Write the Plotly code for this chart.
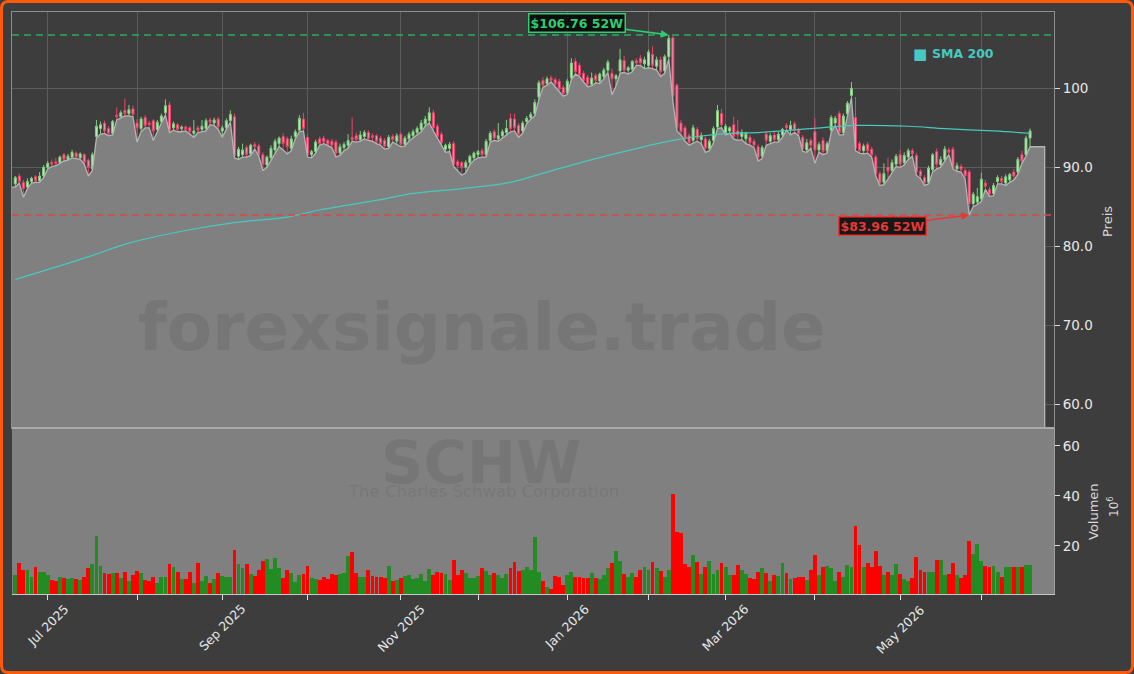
import numpy as np
import pandas as pd
import plotly.graph_objects as go
from plotly.subplots import make_subplots

# ---------------- data ----------------
ticker = "SCHW"
company = "The Charles Schwab Corporation"
watermark = "forexsignale.trade"

market_holidays = ["2025-06-19", "2025-07-04", "2025-09-01", "2025-11-27", "2025-12-25",
                   "2026-01-01", "2026-01-19", "2026-02-16", "2026-04-03", "2026-05-25"]
dates = pd.bdate_range("2025-06-18", "2026-06-17", freq="C", holidays=market_holidays)

open_ = [87.9, 88.9, 88.1, 87.5, 88.2, 88.8, 88.3, 88.9, 90.0, 90.6, 90.7, 90.6, 91.6, 91.0, 91.3, 91.8, 91.2, 91.6, 90.9, 89.8,
         93.9, 94.9, 95.6, 94.9, 94.3, 96.6, 96.4, 97.2, 96.8, 97.4, 95.6, 94.9, 96.3, 95.6, 95.9, 94.8, 95.8, 96.9, 97.9, 95.0,
         95.4, 94.9, 95.1, 95.0, 94.3, 95.0, 94.8, 94.9, 96.0, 95.6, 96.1, 94.6, 95.0, 95.9, 96.4, 91.4, 91.6, 92.5, 91.7, 92.9,
         92.7, 91.6, 90.3, 91.2, 92.2, 93.0, 93.9, 93.6, 92.4, 93.9, 94.7, 96.1, 93.8, 91.6, 92.0, 93.6, 93.7, 93.4, 93.3, 93.2,
         91.8, 92.5, 92.8, 93.8, 94.0, 93.5, 93.9, 94.4, 94.0, 94.0, 93.7, 93.4, 92.6, 93.9, 93.3, 94.2, 92.9, 93.6, 94.0, 94.4,
         94.8, 95.5, 95.9, 96.9, 95.2, 94.2, 92.3, 92.4, 93.0, 90.7, 90.6, 90.0, 90.6, 91.2, 91.6, 92.1, 91.6, 93.4, 94.5, 93.6,
         94.0, 94.4, 96.2, 96.1, 95.3, 94.6, 95.8, 96.3, 96.8, 98.9, 101.0, 100.6, 101.3, 101.1, 100.9, 100.1, 99.4, 101.3, 103.4, 102.9,
         101.9, 101.4, 100.5, 101.6, 100.9, 101.5, 102.3, 101.9, 101.2, 102.2, 103.5, 102.3, 102.4, 103.5, 103.8, 103.1, 102.9, 104.3, 102.8, 103.6,
         102.2, 104.0, 106.4, 100.4, 95.6, 95.0, 94.0, 93.4, 94.8, 93.5, 93.6, 92.4, 93.4, 95.1, 96.8, 94.4, 94.6, 95.4, 94.6, 93.9,
         93.6, 93.8, 93.3, 92.6, 91.4, 94.2, 93.3, 94.1, 93.5, 94.1, 95.3, 94.8, 95.5, 94.7, 93.8, 92.2, 93.4, 94.5, 92.2, 93.4,
         92.1, 94.7, 95.6, 96.8, 94.4, 96.8, 99.1, 96.3, 93.0, 92.1, 92.9, 92.3, 91.3, 89.2, 88.1, 90.0, 89.6, 90.4, 91.6, 90.6,
         91.3, 92.1, 91.5, 89.5, 88.7, 88.1, 89.7, 92.0, 90.3, 91.0, 92.2, 92.3, 89.8, 90.1, 89.6, 89.4, 85.4, 85.6, 86.0, 88.0,
         87.2, 86.7, 88.2, 88.6, 88.0, 88.4, 89.4, 89.4, 91.6, 91.6, 93.7]
high = [88.9, 89.2, 88.4, 88.6, 88.8, 89.0, 89.4, 90.3, 90.8, 91.0, 91.2, 91.5, 91.8, 91.7, 92.2, 92.0, 91.9, 91.8, 91.1, 91.9,
        96.0, 95.8, 95.9, 95.2, 96.0, 97.6, 97.2, 98.7, 97.9, 97.8, 96.1, 96.4, 96.6, 95.9, 96.1, 96.0, 96.8, 98.6, 98.3, 95.8,
        95.6, 95.3, 95.3, 95.2, 96.0, 95.3, 96.0, 96.2, 96.3, 96.3, 96.4, 95.3, 96.2, 97.2, 96.8, 92.6, 93.0, 92.8, 93.0, 93.2,
        93.0, 91.9, 91.5, 92.8, 93.6, 93.9, 94.3, 93.9, 94.0, 94.8, 96.6, 96.9, 94.2, 92.2, 93.5, 93.9, 94.0, 93.6, 93.6, 93.5,
        93.0, 93.2, 94.2, 96.3, 94.4, 94.6, 94.7, 94.7, 94.3, 94.2, 94.0, 93.7, 94.1, 94.2, 94.3, 94.4, 94.0, 94.5, 94.8, 95.2,
        96.0, 96.5, 97.6, 97.3, 95.5, 94.5, 93.0, 93.2, 93.3, 91.0, 90.8, 90.9, 91.6, 92.0, 92.2, 92.4, 93.6, 94.6, 94.8, 95.6,
        94.8, 96.0, 96.8, 96.8, 95.6, 95.9, 96.5, 97.0, 98.6, 101.0, 101.4, 101.5, 101.6, 101.4, 101.2, 100.4, 101.2, 103.8, 103.8, 103.2,
        102.2, 101.7, 102.0, 101.9, 102.0, 102.6, 103.6, 102.5, 101.8, 105.0, 104.1, 102.8, 103.6, 103.8, 104.2, 104.0, 104.9, 105.3, 104.0, 104.0,
        104.3, 106.76, 106.6, 100.6, 96.0, 95.3, 94.3, 95.4, 95.1, 94.4, 93.9, 93.6, 95.2, 97.9, 97.4, 95.5, 95.2, 96.4, 96.0, 94.8,
        94.5, 94.1, 93.6, 92.9, 92.8, 94.6, 94.3, 94.5, 94.5, 95.0, 95.6, 95.9, 95.8, 95.0, 94.1, 93.6, 93.7, 96.2, 93.2, 93.8,
        93.3, 96.6, 96.5, 97.1, 96.8, 98.4, 100.8, 98.9, 93.3, 93.0, 93.2, 92.6, 91.6, 89.5, 90.5, 91.2, 91.0, 91.7, 92.2, 91.9,
        92.4, 92.4, 91.8, 89.8, 89.0, 90.2, 91.8, 92.4, 91.4, 92.7, 92.5, 92.6, 90.6, 90.4, 89.9, 89.7, 86.9, 87.4, 89.3, 88.4,
        87.5, 88.0, 89.0, 88.9, 89.1, 89.3, 89.8, 91.3, 92.1, 94.0, 94.9]
low = [87.5, 88.0, 86.2, 87.3, 88.0, 88.1, 88.1, 88.7, 89.8, 90.1, 90.2, 90.5, 90.8, 90.9, 91.2, 91.1, 91.0, 90.4, 88.9, 89.6,
       93.7, 94.2, 94.3, 94.0, 94.1, 96.0, 96.3, 96.5, 96.5, 96.4, 93.2, 94.5, 95.0, 95.0, 93.4, 94.6, 95.6, 96.6, 94.4, 94.7,
       94.5, 94.5, 94.6, 94.2, 93.8, 94.4, 94.5, 94.6, 95.4, 95.3, 94.8, 93.8, 94.8, 95.7, 91.2, 91.0, 91.3, 91.3, 91.5, 92.3,
       91.4, 89.6, 90.0, 90.9, 91.8, 92.6, 92.2, 91.7, 92.1, 93.6, 94.5, 94.6, 91.3, 91.2, 91.8, 92.8, 93.0, 92.7, 92.5, 91.3,
       91.5, 92.1, 92.4, 93.3, 93.2, 93.3, 93.6, 93.4, 93.3, 93.0, 92.8, 92.3, 92.4, 93.2, 92.9, 92.6, 92.7, 93.3, 93.7, 94.1,
       94.5, 95.2, 95.6, 94.6, 93.6, 92.8, 91.9, 92.0, 90.1, 89.6, 89.0, 89.3, 90.3, 90.9, 91.2, 91.3, 91.3, 93.2, 93.4, 93.3,
       93.7, 94.2, 94.5, 94.6, 93.8, 94.3, 95.5, 96.1, 96.5, 98.6, 100.1, 100.4, 100.8, 100.2, 99.6, 99.0, 99.2, 101.1, 101.8, 101.5,
       100.8, 100.2, 100.3, 100.7, 100.6, 101.2, 102.0, 99.2, 100.3, 101.9, 102.0, 101.8, 102.1, 102.9, 102.9, 102.5, 102.6, 102.5, 102.3, 101.5,
       101.9, 103.7, 98.4, 94.6, 94.1, 93.3, 92.8, 93.1, 93.3, 93.0, 91.9, 92.1, 93.1, 94.9, 95.0, 94.1, 94.3, 93.6, 93.4, 93.5,
       93.0, 92.8, 92.5, 90.8, 91.1, 92.8, 93.0, 93.2, 93.2, 93.8, 94.7, 94.1, 94.4, 94.0, 92.0, 91.9, 92.4, 90.5, 91.9, 91.6,
       91.8, 94.4, 95.3, 94.1, 94.1, 96.5, 98.8, 92.1, 91.8, 91.7, 91.8, 91.3, 88.9, 87.7, 87.8, 88.5, 89.3, 90.1, 90.0, 90.3,
       91.0, 91.4, 89.0, 88.6, 87.7, 87.9, 89.4, 89.8, 90.0, 90.8, 91.6, 89.8, 89.5, 89.4, 88.5, 83.96, 85.0, 85.3, 85.7, 87.2,
       86.3, 86.4, 87.9, 87.9, 87.7, 88.1, 88.4, 89.1, 90.5, 91.4, 92.6]
close = [88.7, 88.2, 87.3, 88.2, 88.6, 88.3, 88.9, 90.0, 90.5, 90.4, 90.5, 91.3, 91.0, 91.4, 91.9, 91.3, 91.7, 90.6, 90.0, 91.6,
         95.2, 95.4, 94.6, 94.3, 95.8, 96.4, 96.9, 96.8, 97.3, 96.7, 95.0, 96.1, 95.3, 95.4, 94.6, 95.7, 96.5, 97.8, 94.7, 95.5,
         94.8, 95.1, 94.8, 94.5, 94.6, 94.7, 95.2, 95.9, 95.7, 96.0, 95.1, 95.0, 95.9, 96.7, 91.5, 92.3, 92.2, 91.6, 92.8, 92.6,
         91.6, 90.4, 91.3, 92.4, 93.3, 93.7, 93.0, 92.6, 93.6, 94.5, 96.2, 94.9, 91.6, 92.0, 93.2, 93.0, 93.2, 92.9, 92.8, 91.8,
         92.6, 92.9, 93.4, 93.5, 93.5, 94.1, 94.4, 93.6, 93.8, 93.3, 93.0, 92.7, 93.8, 93.5, 94.0, 92.9, 93.7, 94.2, 94.5, 94.9,
         95.6, 96.1, 96.9, 95.0, 93.9, 93.1, 92.8, 92.9, 90.4, 90.2, 90.0, 90.6, 91.4, 91.8, 92.0, 91.6, 93.3, 94.3, 93.7, 94.0,
         94.5, 94.9, 94.9, 95.0, 94.2, 95.6, 96.2, 96.7, 98.2, 100.7, 100.4, 101.2, 101.0, 100.5, 99.9, 99.3, 100.9, 103.2, 102.1, 101.7,
         101.0, 100.5, 101.3, 101.0, 101.8, 102.3, 103.3, 101.2, 101.6, 103.6, 102.3, 102.6, 103.4, 103.2, 103.2, 103.6, 104.6, 102.9, 103.6, 102.1,
         104.0, 106.3, 99.0, 95.0, 94.5, 93.6, 93.1, 95.0, 93.6, 94.0, 92.4, 93.3, 94.9, 97.2, 95.4, 95.2, 95.0, 93.9, 94.1, 94.4,
         94.3, 93.1, 92.8, 91.2, 92.5, 93.4, 94.0, 93.5, 94.2, 94.8, 95.0, 95.3, 94.7, 94.3, 92.4, 93.1, 92.8, 92.2, 92.9, 92.0,
         93.0, 96.3, 96.2, 94.4, 96.5, 98.1, 100.0, 92.4, 92.1, 92.7, 92.1, 91.6, 89.2, 88.0, 89.2, 89.5, 90.6, 91.4, 90.4, 91.5,
         92.1, 91.7, 89.4, 88.9, 88.0, 89.9, 91.6, 90.4, 91.0, 92.3, 91.9, 90.0, 90.2, 89.7, 88.9, 85.4, 86.6, 86.3, 88.5, 87.6,
         86.6, 87.7, 88.7, 88.2, 88.8, 89.1, 88.9, 91.0, 90.8, 93.7, 94.6]
volume = [8.4, 13.1, 10.4, 10.2, 7.5, 11.7, 9.5, 9.5, 8.4, 6.4, 6.0, 7.7, 7.1, 6.8, 7.1, 6.9, 6.4, 7.7, 11.2, 12.8,
          24.0, 12.0, 9.1, 8.8, 9.1, 9.1, 7.1, 9.6, 6.0, 8.4, 10.0, 9.1, 6.4, 6.0, 7.6, 5.2, 7.6, 7.6, 12.8, 11.5,
          9.6, 6.9, 6.9, 9.6, 5.2, 13.1, 6.0, 8.0, 5.2, 6.9, 9.1, 8.0, 7.7, 7.7, 18.4, 12.8, 11.2, 12.8, 8.8, 8.0,
          10.2, 14.0, 14.7, 10.7, 15.1, 11.2, 7.3, 10.4, 9.1, 5.7, 8.4, 8.8, 12.0, 7.3, 6.9, 6.4, 7.7, 6.7, 8.8, 8.4,
          8.8, 9.3, 16.0, 17.7, 9.3, 7.7, 7.7, 10.4, 8.0, 7.7, 7.6, 7.3, 12.0, 6.0, 6.4, 7.3, 8.0, 8.4, 6.7, 7.1,
          8.8, 6.0, 10.7, 8.4, 9.6, 9.1, 8.8, 6.4, 14.4, 8.4, 10.2, 9.1, 7.1, 7.1, 8.0, 11.0, 10.0, 8.4, 9.3, 8.4,
          7.1, 8.7, 11.0, 13.7, 10.0, 10.2, 11.4, 10.2, 23.7, 9.7, 6.0, 3.5, 2.9, 8.0, 7.5, 4.4, 8.4, 9.6, 7.7, 7.7,
          7.1, 7.3, 9.1, 7.1, 6.7, 8.4, 11.2, 13.1, 18.1, 13.9, 8.8, 7.7, 9.1, 7.7, 10.4, 11.7, 10.2, 13.7, 11.0, 10.0,
          7.7, 10.4, 40.8, 25.7, 25.3, 12.8, 11.7, 16.4, 13.7, 8.8, 11.7, 14.0, 8.8, 10.2, 13.1, 11.7, 8.4, 8.4, 12.3, 10.2,
          8.8, 7.3, 6.9, 9.7, 11.2, 9.1, 6.0, 8.4, 8.0, 13.1, 9.1, 6.9, 7.1, 7.5, 7.7, 6.4, 10.2, 16.3, 8.2, 11.4,
          12.1, 11.0, 6.0, 9.7, 7.7, 12.4, 11.4, 28.0, 20.4, 11.7, 13.1, 11.4, 18.1, 12.0, 8.4, 9.6, 8.4, 12.8, 8.8, 6.9,
          6.0, 7.3, 15.4, 10.2, 9.7, 9.6, 9.6, 14.4, 14.4, 8.4, 8.8, 13.1, 8.4, 7.3, 8.4, 22.1, 16.9, 20.6, 14.0, 12.1,
          11.7, 12.0, 9.7, 7.7, 11.4, 11.4, 11.7, 11.7, 11.7, 12.4, 12.4]

# 200-day simple moving average (at selected trading days)
sma_day = [0, 17, 28, 42, 54, 67, 75, 90, 98, 110, 122, 131, 143, 154, 162, 168, 176, 183, 196, 207, 220, 229, 241, 250]
sma_200 = [75.8, 78.5, 80.4, 82.0, 83.0, 83.7, 84.6, 85.9, 86.7, 87.3, 88.1, 89.4, 91.1, 92.5, 93.4, 93.9, 94.3, 94.4,
           94.9, 95.3, 95.2, 94.9, 94.6, 94.3]

month_keys = ["2025-07", "2025-08", "2025-09", "2025-10", "2025-11", "2025-12",
              "2026-01", "2026-02", "2026-03", "2026-04", "2026-05", "2026-06"]
month_labels = ["Jul 2025", "", "Sep 2025", "", "Nov 2025", "", "Jan 2026", "", "Mar 2026", "", "May 2026", ""]

price_ticks = [60, 70, 80, 90, 100]
price_tick_text = ["60.0", "70.0", "80.0", "90.0", "100"]
volume_ticks = [20, 40, 60]
volume_tick_text = ["20", "40", "60"]

# ---------------- derived ----------------
n = len(close)
x = list(range(n))
date_keys = np.array([d.strftime("%Y-%m") for d in dates[:n]])
month_pos = [int(np.argmax(date_keys == k)) for k in month_keys]

hi_52 = max(high)
lo_52 = min(low)
hi_idx = high.index(hi_52)
lo_idx = low.index(lo_52)

# ---------------- style ----------------
W, H = 1134, 674
ML, MR, MT, MB = 12, 80, 12, 80
PW, PH = W - ML - MR, H - MT - MB
BG = "#3d3d3d"
AREA = "#808080"
TXT = "#e6e6e6"
FONT = "DejaVu Sans"
UP_LINE, UP_FILL = "#7fd07f", "#bfeebf"
DN_LINE, DN_FILL = "#f0406a", "#f29aae"
VOL_UP, VOL_DN = "#228b22", "#ff0000"
SMA_C = "#48c9c0"
GREEN_T = "#2ecc71"
RED_T = "#e53935"
AREA_EXT = 3.6
XR = [-0.8, 255.9]
PRICE_R = [57.0, 109.66]
VOL_R = [0.8, 67.1]
split = (594 - 428) / PH


def px(xp):
    return (xp - ML) / PW


def py(yp):
    return (MT + PH - yp) / PH


fig = make_subplots(rows=2, cols=1, shared_xaxes=True, vertical_spacing=0.0,
                    row_heights=[1 - split, split])

# gray area under the lows (runs from the left edge to just past the last session)
fig.add_trace(go.Scatter(
    x=[XR[0]] + x + [x[-1] + AREA_EXT, x[-1] + AREA_EXT], y=[low[0]] + low + [low[-1], 0],
    mode="lines", line=dict(color="#b4b4b4", width=1.3),
    fill="tozeroy", fillcolor=AREA, hoverinfo="skip", showlegend=False), row=1, col=1)

fig.add_trace(go.Scatter(
    x=sma_day, y=sma_200, mode="lines", line=dict(color=SMA_C, width=1.2, shape="spline"),
    name="SMA 200", showlegend=False), row=1, col=1)

fig.add_trace(go.Candlestick(
    x=x, open=open_, high=high, low=low, close=close,
    increasing=dict(line=dict(color=UP_LINE, width=1), fillcolor=UP_FILL),
    decreasing=dict(line=dict(color=DN_LINE, width=1), fillcolor=DN_FILL),
    whiskerwidth=0, showlegend=False), row=1, col=1)

vol_colors = [VOL_UP if c >= o else VOL_DN for o, c in zip(open_, close)]
fig.add_trace(go.Bar(x=x, y=volume, marker=dict(color=vol_colors, line=dict(width=0)),
                     width=0.95, showlegend=False), row=2, col=1)

fig.update_layout(
    width=W, height=H, margin=dict(l=ML, r=MR, t=MT, b=MB),
    paper_bgcolor=BG, plot_bgcolor=BG, font=dict(family=FONT, color=TXT, size=13),
    showlegend=False, bargap=0,
)

fig.update_xaxes(range=XR, tickmode="array", tickvals=month_pos, showticklabels=False,
                 zeroline=False)
fig.update_layout(
    xaxis=dict(showgrid=True, gridcolor="#5c5c5c", gridwidth=1, ticks="",
               showline=True, mirror=True, linecolor="#8e8e8e", linewidth=1,
               rangeslider=dict(visible=False)),
    xaxis2=dict(showgrid=False, ticks="outside", ticklen=5, tickcolor="#dddddd",
                showline=True, linecolor="#c8c8c8", linewidth=1),
    yaxis=dict(domain=[split, 1.0], side="right", range=PRICE_R, tickmode="array",
               tickvals=price_ticks, ticktext=price_tick_text, ticks="outside", ticklen=5,
               tickcolor="#dddddd", tickfont=dict(size=13.5, color=TXT),
               showgrid=True, gridcolor="#5c5c5c", zeroline=False,
               showline=True, mirror=True, linecolor="#8e8e8e", linewidth=1),
    yaxis2=dict(domain=[0, split], side="right", range=VOL_R, tickmode="array",
                tickvals=volume_ticks, ticktext=volume_tick_text, ticks="outside", ticklen=5,
                tickcolor="#dddddd", tickfont=dict(size=13.5, color=TXT),
                showgrid=False, zeroline=False,
                showline=True, mirror=False, linecolor="#a0a0a0", linewidth=1),
)

shapes = [
    # volume panel background
    dict(type="rect", xref="x2 domain", yref="y2 domain", x0=0, x1=1, y0=0, y1=1,
         fillcolor=AREA, line=dict(width=0), layer="below"),
    # separator between the panels
    dict(type="line", xref="x2 domain", yref="y2 domain", x0=0, x1=1, y0=1, y1=1,
         line=dict(color="#aaaaaa", width=2), layer="above"),
    # 52-week high / low lines
    dict(type="line", xref="x domain", yref="y", x0=0, x1=1, y0=hi_52, y1=hi_52,
         line=dict(color="#35a862", width=1.5, dash="7px,5px"), layer="above"),
    dict(type="line", xref="x domain", yref="y", x0=0, x1=1, y0=lo_52, y1=lo_52,
         line=dict(color="#d24a4a", width=1.5, dash="7px,5px"), layer="above"),
]

# orange rounded border around the whole figure
x0, x1 = px(1.5), px(W - 1.5)
y0, y1 = py(H - 1.5), py(1.5)
rx, ry = 7 / PW, 7 / PH
border_path = (f"M {x0+rx},{y0} L {x1-rx},{y0} Q {x1},{y0} {x1},{y0+ry} "
               f"L {x1},{y1-ry} Q {x1},{y1} {x1-rx},{y1} L {x0+rx},{y1} "
               f"Q {x0},{y1} {x0},{y1-ry} L {x0},{y0+ry} Q {x0},{y0} {x0+rx},{y0} Z")
shapes.append(dict(type="path", xref="paper", yref="paper", path=border_path,
                   line=dict(color="#ff5a0a", width=3), layer="above"))
fig.update_layout(shapes=shapes)


def note(xp, yp, text, size, color, angle=0, xanchor="center", bold=False):
    return dict(x=px(xp), y=py(yp), xref="paper", yref="paper",
                text=f"<b>{text}</b>" if bold else text, showarrow=False, textangle=angle,
                xanchor=xanchor, yanchor="middle", font=dict(size=size, color=color, family=FONT))


ann = []
# month labels (centred under their ticks, rotated)
for pos, lab in zip(month_pos, month_labels):
    if lab:
        ann.append(dict(x=pos, xref="x2", y=py(599), yref="paper", text=lab, showarrow=False,
                        textangle=-45, xanchor="center", yanchor="top",
                        font=dict(size=12.5, color=TXT, family=FONT)))

# axis titles
ann.append(note(1107, 222, "Preis", 13, "#d8d8d8", angle=-90))
ann.append(note(1093, 512, "Volumen", 13, "#d8d8d8", angle=-90))
ann.append(note(1113, 507, "10<sup>6</sup>", 12, "#d8d8d8", angle=-90))

# watermarks
wm = "rgba(70,70,70,0.16)"
ann.append(note(482, 327, watermark, 66, wm, bold=True))
ann.append(note(481, 462, ticker, 59, wm, bold=True))
ann.append(note(483, 491, company, 16.5, wm))

# SMA legend
ann.append(note(919.5, 54.5, "■", 15, SMA_C))
ann.append(note(930, 54, "SMA 200", 12.5, SMA_C, xanchor="left", bold=True))

# 52-week high / low callouts
ann.append(dict(x=hi_idx, y=hi_52, xref="x", yref="y", text=f"<b>${hi_52:.2f} 52W</b>",
                showarrow=True, ax=-92, ay=-12, arrowhead=2, arrowsize=1, arrowwidth=1.6,
                arrowcolor=GREEN_T, font=dict(size=12.5, color=GREEN_T, family=FONT),
                bgcolor="rgba(5,5,5,0.85)", bordercolor=GREEN_T, borderwidth=1.5, borderpad=1))
ann.append(dict(x=lo_idx, y=lo_52, xref="x", yref="y", text=f"<b>${lo_52:.2f} 52W</b>",
                showarrow=True, ax=-87, ay=11, arrowhead=2, arrowsize=1, arrowwidth=1.6,
                arrowcolor=RED_T, font=dict(size=12.5, color=RED_T, family=FONT),
                bgcolor="rgba(5,5,5,0.85)", bordercolor=RED_T, borderwidth=1.5, borderpad=1))
fig.update_layout(annotations=ann)

fig.write_html("out.html")
